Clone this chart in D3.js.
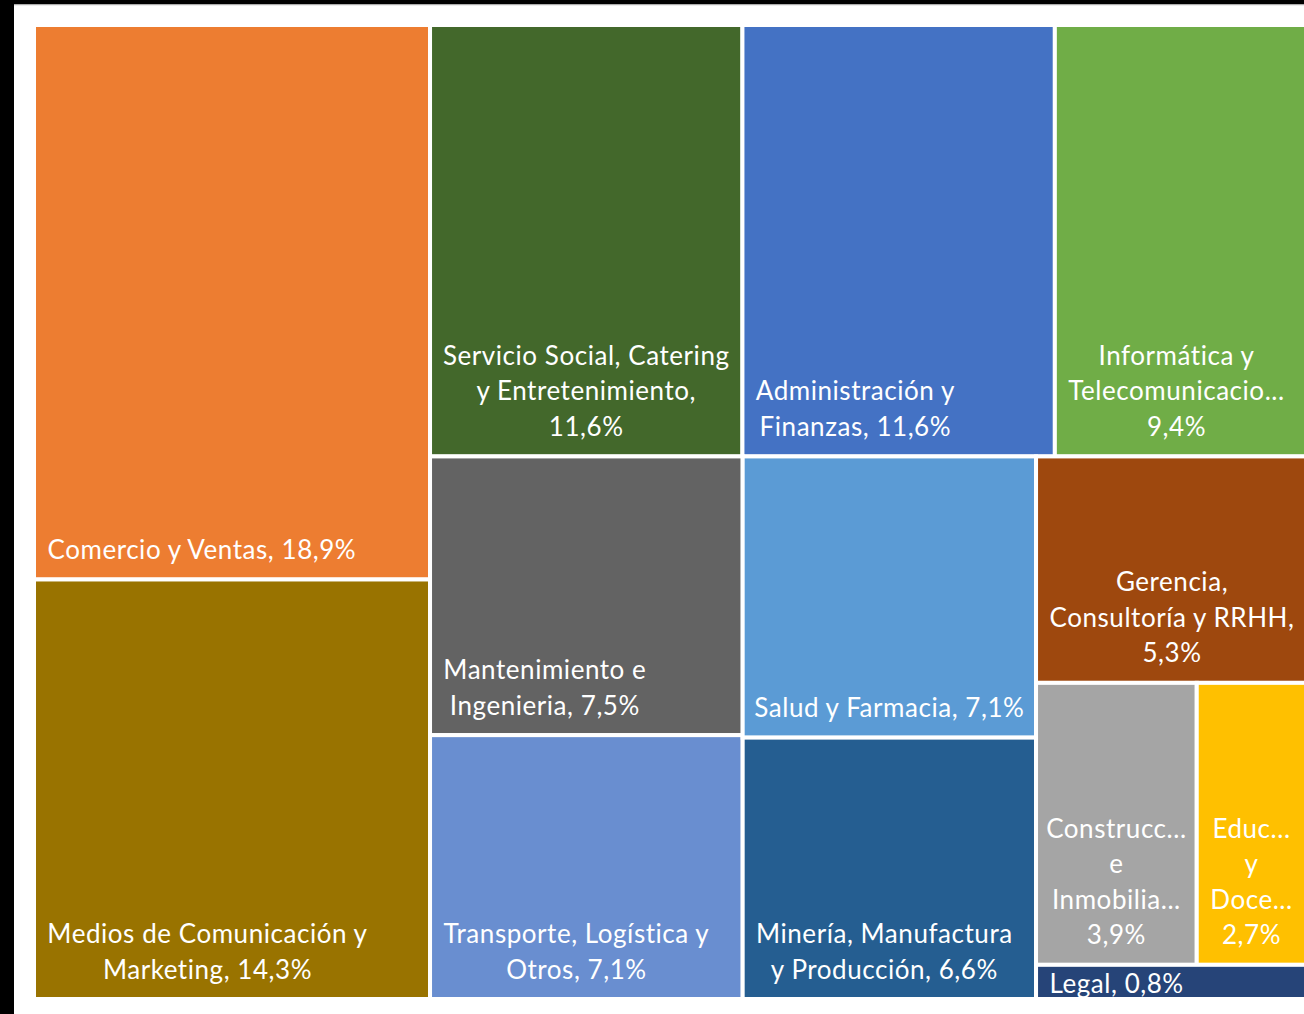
<!DOCTYPE html>
<html>
<head>
<meta charset="utf-8">
<script src="https://cdn.jsdelivr.net/npm/d3@7"></script>
<style>
  html, body { margin: 0; padding: 0; background: #ffffff; }
  svg { display: block; }
</style>
</head>
<body>
<svg id="chart" width="1304" height="1014"></svg>
<script>
// ---- data ----
const categories = [
  "Comercio y Ventas",
  "Medios de Comunicación y Marketing",
  "Servicio Social, Catering y Entretenimiento",
  "Administración y Finanzas",
  "Informática y Telecomunicaciones",
  "Mantenimiento e Ingenieria",
  "Transporte, Logística y Otros",
  "Salud y Farmacia",
  "Minería, Manufactura y Producción",
  "Gerencia, Consultoría y RRHH",
  "Construcción e Inmobiliaria",
  "Educación y Docencia",
  "Legal"
];
const values = [18.9, 14.3, 11.6, 11.6, 9.4, 7.5, 7.1, 7.1, 6.6, 5.3, 3.9, 2.7, 0.8];
const colors = [
  "#ED7D31", "#997300", "#43682B", "#4472C4", "#70AD47", "#636363", "#698ED0",
  "#5B9BD5", "#255E91", "#9E480E", "#A5A5A5", "#FFC000", "#264478"
];
const labelLines = [
  ["Comercio y Ventas, 18,9%"],
  ["Medios de Comunicación y", "Marketing, 14,3%"],
  ["Servicio Social, Catering", "y Entretenimiento,", "11,6%"],
  ["Administración y", "Finanzas, 11,6%"],
  ["Informática y", "Telecomunicacio...", "9,4%"],
  ["Mantenimiento e", "Ingenieria, 7,5%"],
  ["Transporte, Logística y", "Otros, 7,1%"],
  ["Salud y Farmacia, 7,1%"],
  ["Minería, Manufactura", "y Producción, 6,6%"],
  ["Gerencia,", "Consultoría y RRHH,", "5,3%"],
  ["Construcc...", "e", "Inmobilia...", "3,9%"],
  ["Educ...", "y", "Doce...", "2,7%"],
  ["Legal, 0,8%"]
];
// number of cells in each squarified row, in order (as the reference groups them)
const rowSizes = [2, 3, 2, 2, 1, 2, 1];

// ---- layout ----
const svg = d3.select("#chart");
const W = 1304, H = 1014;
const plot = { x0: 34, y0: 25, x1: 1308, y1: 999 };
const fontSize = 26, letterSpacing = 0.55, lineH = 35.5;

svg.append("rect").attr("x", 0).attr("y", 0).attr("width", W).attr("height", H).attr("fill", "#fff");
svg.append("rect").attr("x", 0).attr("y", 0).attr("width", 14).attr("height", H).attr("fill", "#000");
svg.append("rect").attr("x", 0).attr("y", 0).attr("width", W).attr("height", 4.5).attr("fill", "#000");
svg.append("rect").attr("x", 14).attr("y", 4.5).attr("width", W - 14).attr("height", 1).attr("fill", "#d9d9d9");

const data = categories.map((c, i) => ({ name: c, value: values[i], color: colors[i], lines: labelLines[i] }));

function rowTile(parent, x0, y0, x1, y1) {
  const nodes = parent.children;
  let value = parent.value, i0 = 0;
  for (const k of rowSizes) {
    const kids = nodes.slice(i0, i0 + k);
    if (!kids.length) break;
    const sum = d3.sum(kids, d => d.value);
    const row = { children: kids, value: sum };
    const dx = x1 - x0, dy = y1 - y0;
    if (dx < dy) {
      const yy = y0 + dy * sum / value;
      d3.treemapDice(row, x0, y0, x1, yy);
      y0 = yy;
    } else {
      const xx = x0 + dx * sum / value;
      d3.treemapSlice(row, x0, y0, xx, y1);
      x0 = xx;
    }
    value -= sum; i0 += k;
  }
}

const root = d3.hierarchy({ children: data }).sum(d => d.value || 0);
d3.treemap().tile(rowTile).size([plot.x1 - plot.x0, plot.y1 - plot.y0])(root);

const g = svg.append("g").attr("transform", `translate(${plot.x0},${plot.y0})`);
const defs = svg.append("defs");

const leaves = g.selectAll("g.cell").data(root.leaves()).join("g").attr("class", "cell");

leaves.append("rect")
  .attr("x", d => d.x0).attr("y", d => d.y0)
  .attr("width", d => d.x1 - d.x0).attr("height", d => d.y1 - d.y0)
  .attr("fill", d => d.data.color)
  .attr("stroke", "#fff").attr("stroke-width", 4);

leaves.each(function (d, i) {
  const id = "clip" + i;
  defs.append("clipPath").attr("id", id).append("rect")
    .attr("x", d.x0 + 2).attr("y", d.y0 + 2)
    .attr("width", Math.max(0, d.x1 - d.x0 - 4)).attr("height", Math.max(0, d.y1 - d.y0 - 4));
  const cell = d3.select(this);
  const t = cell.append("text")
    .attr("clip-path", `url(#${id})`)
    .attr("fill", "#fff")
    .attr("font-family", "Lato, 'Open Sans', sans-serif")
    .attr("font-size", fontSize)
    .attr("letter-spacing", letterSpacing)
    .attr("text-anchor", "middle");
  const lines = d.data.lines;
  const spans = lines.map(l => t.append("tspan").text(l));
  const widths = spans.map(s => s.node().getComputedTextLength());
  const blockW = d3.max(widths);
  const w = d.x1 - d.x0, h = d.y1 - d.y0;
  const pad = 13.5;
  let cx;
  if (blockW > w - 2 * pad) cx = d.x0 + w / 2;
  else cx = d.x0 + pad + blockW / 2;
  const blockH = lines.length * lineH;
  let lastBase;
  if (blockH + 10 > h) lastBase = d.y0 + 28 + (lines.length - 1) * lineH;
  else lastBase = d.y1 - 20.5;
  spans.forEach((s, j) => {
    s.attr("x", cx).attr("y", lastBase - (lines.length - 1 - j) * lineH);
  });
});
</script>
</body>
</html>
